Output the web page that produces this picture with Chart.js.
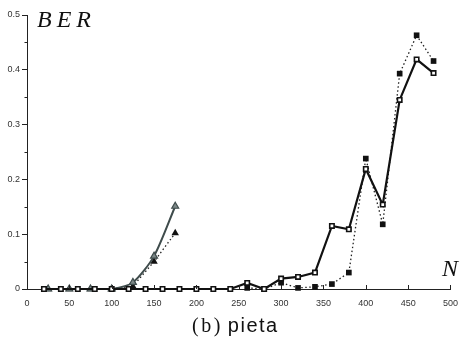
<!DOCTYPE html>
<html>
<head>
<meta charset="utf-8">
<script src="https://cdn.jsdelivr.net/npm/chart.js@4.4.1/dist/chart.umd.min.js"></script>
<style>
  html, body { margin: 0; padding: 0; background: #fff; }
  #wrap { position: relative; width: 467px; height: 344px; }
  canvas { position: absolute; left: 0; top: 0; }
  .lbl { position: absolute; white-space: nowrap; color: #111; }
  #ber { left: 37px; top: 6px; font-family: "Liberation Serif", serif; font-style: italic; font-size: 24px; letter-spacing: 5px; }
  #nlab { left: 442px; top: 255px; font-family: "Liberation Serif", serif; font-style: italic; font-size: 24px; }
  #cap { left: 192px; top: 314px; font-size: 20px; }
  #cap .s { font-family: "Liberation Serif", serif; font-size: 20px; letter-spacing: 2.5px; }
  #cap .t { font-family: "Liberation Sans", sans-serif; margin-left: 5px; letter-spacing: 1.5px; }
</style>
</head>
<body>
<div id="wrap">
  <canvas id="c" width="467" height="344"></canvas>
  <div class="lbl" id="ber">BER</div>
  <div class="lbl" id="nlab">N</div>
  <div class="lbl" id="cap"><span class="s">(b)</span><span class="t">pieta</span></div>
</div>
<script>
// ---- data ----
const nSquares = [20,40,60,80,100,120,140,160,180,200,220,240,260,280,300,320,340,360,380,400,420,440,460,480];
const berOpenSquares = [0,0,0,0,0,0,0,0,0,0,0,0,0.011,0,0.019,0.022,0.030,0.115,0.109,0.219,0.154,0.345,0.419,0.394];
const nFilledSquares = [260,280,300,320,340,360,380,400,420,440,460,480];
const berFilledSquares = [0.002,0,0.0115,0.002,0.004,0.009,0.030,0.238,0.118,0.393,0.463,0.416];
const nTriangles = [25,50,75,100,125,150,175];
const berGreyTriangles = [0,0,0,0,0.012,0.060,0.151];
const berBlackTriangles = [0,0,0,0,0.005,0.050,0.102];
const xTickValues = [0,50,100,150,200,250,300,350,400,450,500];
const xTickLabels = ['0','50','100','150','200','250','300','350','400','450','500'];
const yTickValues = [0,0.1,0.2,0.3,0.4,0.5];
const yTickLabels = ['0','0.1','0.2','0.3','0.4','0.5'];
const yMinorTicks = [0.05,0.15,0.25,0.35,0.45];

const pts = (xs, ys) => xs.map((x, i) => ({x: x, y: ys[i]}));

const axisTicks = {
  id: 'axisTicks',
  afterDraw(chart) {
    const ctx = chart.ctx, xs = chart.scales.x, ys = chart.scales.y;
    ctx.save();
    ctx.strokeStyle = '#222';
    ctx.lineWidth = 1;
    const yb = ys.getPixelForValue(0);
    xTickValues.forEach(v => {
      const px = Math.round(xs.getPixelForValue(v)) + 0.5;
      ctx.beginPath(); ctx.moveTo(px, yb); ctx.lineTo(px, yb - 4); ctx.stroke();
    });
    const xl = xs.getPixelForValue(0);
    yMinorTicks.forEach(v => {
      const py = Math.round(ys.getPixelForValue(v)) + 0.5;
      ctx.beginPath(); ctx.moveTo(xl - 2.5, py); ctx.lineTo(xl, py); ctx.stroke();
    });
    ctx.restore();
  }
};

new Chart(document.getElementById('c'), {
  type: 'line',
  data: {
    datasets: [
      {
        data: pts(nSquares, berOpenSquares),
        borderColor: '#111', borderWidth: 2.2,
        pointStyle: 'rect', pointRadius: 3.1, pointBorderWidth: 1.6,
        pointBackgroundColor: '#fff', pointBorderColor: '#111',
        tension: 0, clip: false
      },
      {
        data: pts(nFilledSquares, berFilledSquares),
        borderColor: '#222', borderWidth: 1.3, borderDash: [1.5, 2.5],
        pointStyle: 'rect', pointRadius: 4, pointBorderWidth: 0,
        pointBackgroundColor: '#111', pointBorderColor: '#111',
        tension: 0, clip: false
      },
      {
        data: pts(nTriangles, berGreyTriangles),
        borderColor: '#3f4c4c', borderWidth: 2,
        pointStyle: 'triangle', pointRadius: 4, pointBorderWidth: 1.2,
        pointBackgroundColor: '#7d8888', pointBorderColor: '#3f4c4c',
        tension: 0.25, clip: false
      },
      {
        data: pts(nTriangles, berBlackTriangles),
        borderColor: '#222', borderWidth: 1.3, borderDash: [1.5, 2.5],
        pointStyle: 'triangle', pointRadius: 4.3, pointBorderWidth: 0,
        pointBackgroundColor: '#111', pointBorderColor: '#111',
        tension: 0, clip: false
      }
    ]
  },
  options: {
    responsive: false,
    animation: false,
    layout: { padding: { top: 15, right: 9, left: 0, bottom: 0 } },
    plugins: { legend: { display: false }, tooltip: { enabled: false } },
    scales: {
      x: {
        type: 'linear', min: 0, max: 500,
        afterBuildTicks: s => { s.ticks = xTickValues.map(v => ({value: v})); },
        afterFit: s => { s.height = 55; },
        grid: { display: true, drawOnChartArea: false, drawTicks: false },
        border: { display: true, color: '#222', width: 1 },
        ticks: {
          padding: 9, color: '#333', maxRotation: 0, autoSkip: false,
          font: { family: 'Liberation Sans', size: 9 },
          callback: (v) => { const i = xTickValues.indexOf(v); return i >= 0 ? xTickLabels[i] : ''; }
        }
      },
      y: {
        type: 'linear', min: 0, max: 0.5,
        afterBuildTicks: s => { s.ticks = yTickValues.map(v => ({value: v})); },
        afterFit: s => { s.width = 27; },
        grid: { display: true, drawOnChartArea: false, drawTicks: true, tickLength: 5, color: '#222' },
        border: { display: true, color: '#222', width: 1 },
        ticks: {
          padding: 2, color: '#333', autoSkip: false,
          font: { family: 'Liberation Sans', size: 9 },
          callback: (v) => { const i = yTickValues.findIndex(t => Math.abs(t - v) < 1e-9); return i >= 0 ? yTickLabels[i] : ''; }
        }
      }
    }
  },
  plugins: [axisTicks]
});
</script>
</body>
</html>
